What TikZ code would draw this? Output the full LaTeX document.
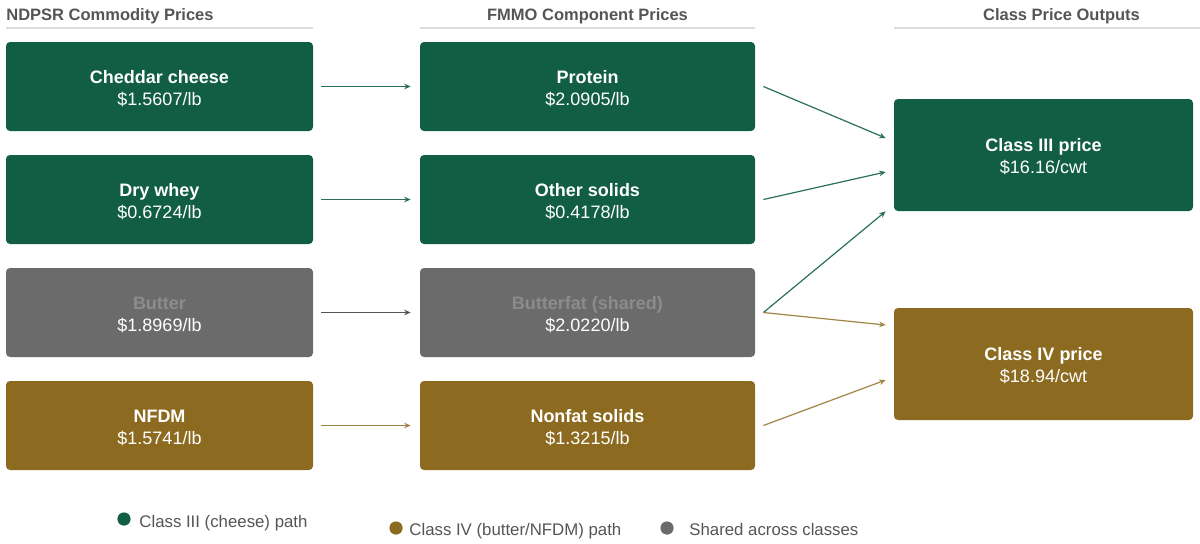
\documentclass[tikz,border=0pt]{standalone}
\usepackage{fontspec}
\setmainfont{Liberation Sans}
\usepackage{xcolor}
\usetikzlibrary{arrows.meta,calc}

\definecolor{cheesegreen}{HTML}{125E45}
\definecolor{buttergold}{HTML}{8C6B21}
\definecolor{sharedgray}{HTML}{6B6B6B}
\definecolor{fadedtext}{HTML}{8C8C8C}
\definecolor{hdrgray}{HTML}{555555}
\definecolor{rulegray}{HTML}{DCDCDC}
\definecolor{linkgreen}{HTML}{2B6E5A}
\definecolor{linkgold}{HTML}{A08445}
\definecolor{linkgray}{HTML}{555555}

% bold first line, with a little room above it
\newcommand{\boxtitle}[1]{\rule{0pt}{8.5pt}\textbf{#1}}

\tikzset{
    box/.style={rounded corners=2pt, text=white, align=center, inner sep=0pt,
        font=\fontsize{9}{11}\selectfont},
    cheese/.style={box, fill=cheesegreen},
    butter/.style={box, fill=buttergold},
    shared/.style={box, fill=sharedgray},
    colA/.style={minimum width=153.5pt, minimum height=44.5pt},
    colB/.style={minimum width=167.5pt, minimum height=44.5pt},
    colC/.style={minimum width=149.5pt, minimum height=56pt},
    hdr/.style={font=\bfseries\fontsize{8.25}{10}\selectfont, text=hdrgray, inner sep=0pt},
    hdrline/.style={draw=rulegray, line width=1pt},
    link/.style={line width=0.6pt, -{Stealth[length=3.2pt,width=2.8pt]}},
    legtext/.style={font=\fontsize{8.4}{10}\selectfont, text=hdrgray, inner sep=0pt, anchor=base west},
}

\begin{document}
\begin{tikzpicture}[x=0.5pt, y=-0.5pt]
    \useasboundingbox (0,0) rectangle (1200,543);

    % Column headers
    \node[hdr, anchor=base west] (hA) at (6,20) {NDPSR Commodity Prices};
    \node[hdr, anchor=base] (hB) at (587.5,20) {FMMO Component Prices};
    \node[hdr, anchor=base] (hC) at (1061.5,20) {Class Price Outputs};
    \draw[hdrline] (6,28) -- (313,28);
    \draw[hdrline] (420,28) -- (755,28);
    \draw[hdrline] (894,28) -- (1200,28);

    % Commodity prices
    \node[cheese, colA] (ched) at (159.5,86.5) {\boxtitle{Cheddar cheese}\\\$1.5607/lb};
    \node[cheese, colA] (whey) at (159.5,199.5) {\boxtitle{Dry whey}\\\$0.6724/lb};
    \node[shared, colA] (butr) at (159.5,312.5) {\textcolor{fadedtext}{\boxtitle{Butter}}\\\$1.8969/lb};
    \node[butter, colA] (nfdm) at (159.5,425.5) {\boxtitle{NFDM}\\\$1.5741/lb};

    % Component prices
    \node[cheese, colB] (prot) at (587.5,86.5) {\boxtitle{Protein}\\\$2.0905/lb};
    \node[cheese, colB] (osol) at (587.5,199.5) {\boxtitle{Other solids}\\\$0.4178/lb};
    \node[shared, colB] (bfat) at (587.5,312.5) {\textcolor{fadedtext}{\boxtitle{Butterfat (shared)}}\\\$2.0220/lb};
    \node[butter, colB] (nfsol) at (587.5,425.5) {\boxtitle{Nonfat solids}\\\$1.3215/lb};

    % Class prices
    \node[cheese, colC] (cls3) at (1043.5,155) {\boxtitle{Class III price}\\\$16.16/cwt};
    \node[butter, colC] (cls4) at (1043.5,364) {\boxtitle{Class IV price}\\\$18.94/cwt};

    % Commodity -> component
    \foreach \a/\b/\c in {ched/prot/linkgreen, whey/osol/linkgreen, butr/bfat/linkgray, nfdm/nfsol/linkgold} {
        \draw[link, draw=\c, shorten <=4pt, shorten >=4.5pt] (\a) -- (\b);
    }

    % Component -> class
    \draw[link, draw=linkgreen] ([xshift=4pt]prot.east) -- ([xshift=-4pt, yshift=8.5pt]cls3.west);
    \draw[link, draw=linkgreen] ([xshift=4pt]osol.east) -- ([xshift=-4pt, yshift=-8.5pt]cls3.west);
    \draw[link, draw=linkgreen] ([xshift=4pt]bfat.east) -- ([xshift=-4pt]cls3.south west);
    \draw[link, draw=linkgold] ([xshift=4pt]bfat.east) -- ([xshift=-4pt, yshift=19.5pt]cls4.west);
    \draw[link, draw=linkgold] ([xshift=4pt]nfsol.east) -- ([xshift=-4pt, yshift=-8pt]cls4.west);

    % Legend
    \fill[cheesegreen] (124,519) circle (3.3pt);
    \node[legtext] (lg3) at (139,527) {Class III (cheese) path};
    \fill[buttergold] (396,528) circle (3.3pt);
    \node[legtext] (lg4) at (409,535) {Class IV (butter/NFDM) path};
    \fill[sharedgray] (667,528) circle (3.3pt);
    \node[legtext] (lgs) at (689,535) {Shared across classes};
\end{tikzpicture}
\end{document}
